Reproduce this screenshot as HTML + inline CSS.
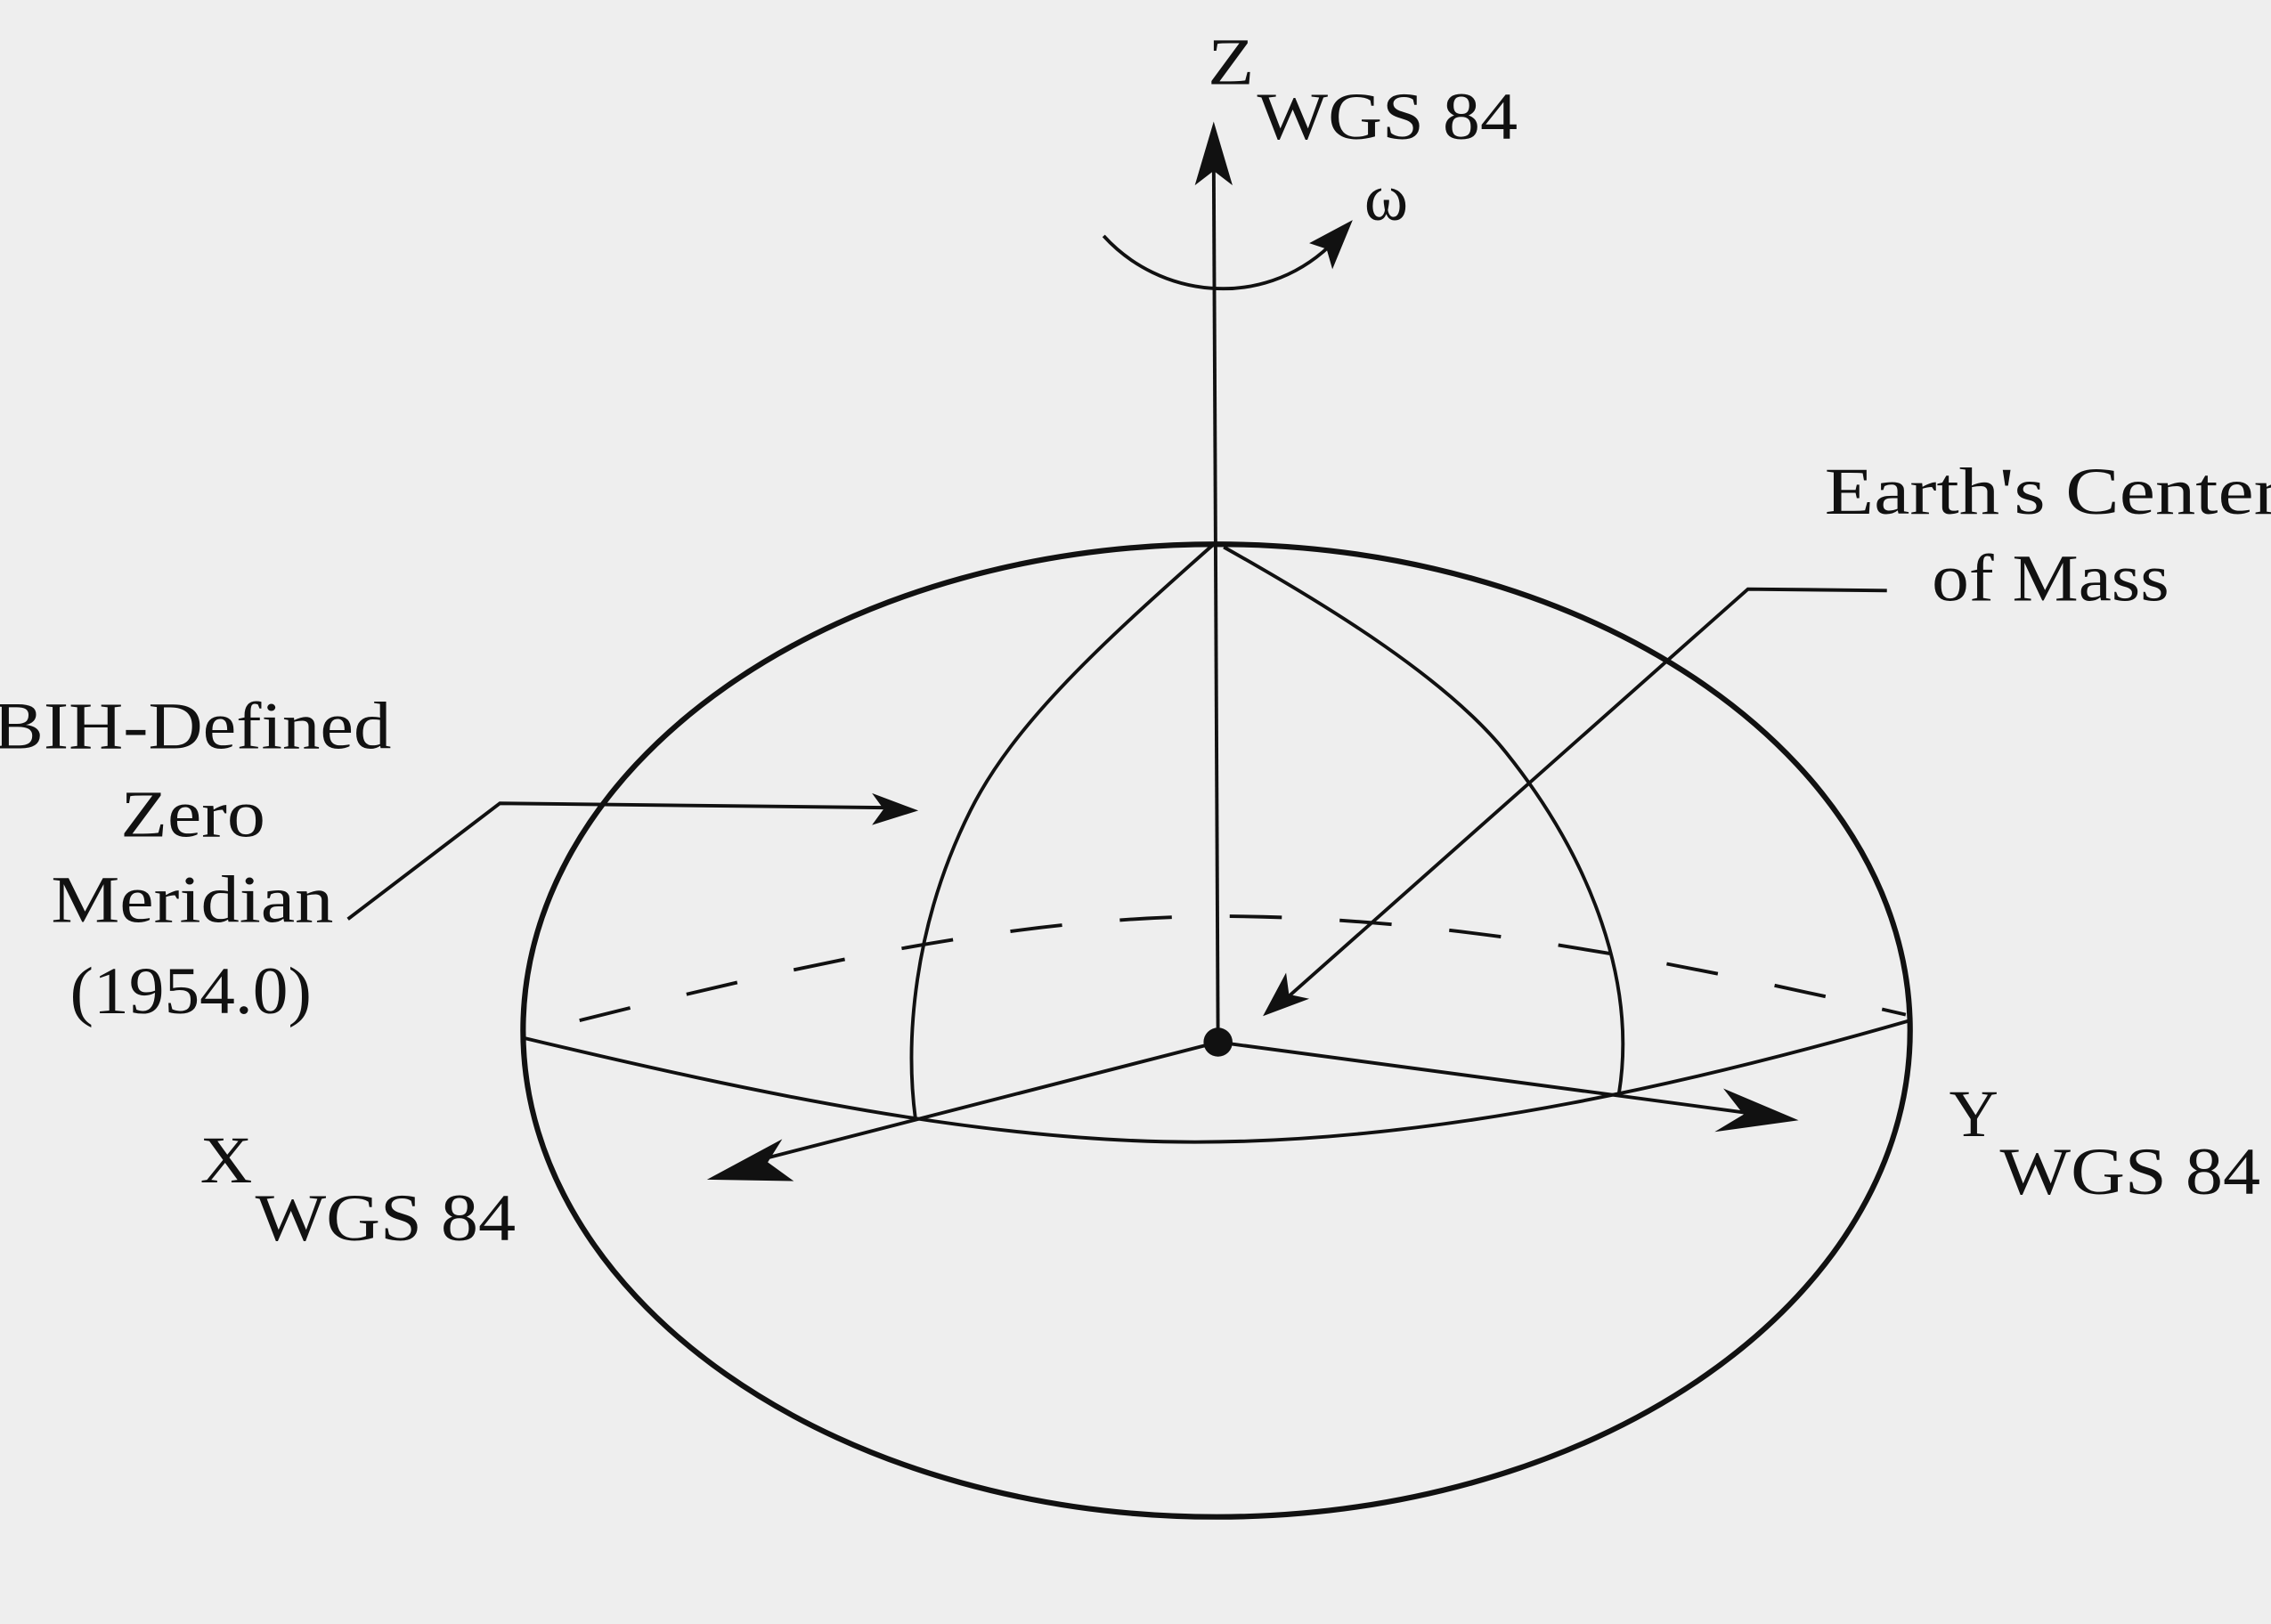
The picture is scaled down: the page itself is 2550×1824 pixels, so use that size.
<!DOCTYPE html>
<html><head><meta charset="utf-8"><style>
html,body{margin:0;padding:0;background:#eeeeee;}
svg{display:block;}
text{font-family:"Liberation Serif",serif;fill:#111;}
</style></head><body>
<svg width="2550" height="1824" viewBox="0 0 1568 1122" xmlns="http://www.w3.org/2000/svg">
<rect width="1568" height="1122" fill="#eeeeee"/>
<g fill="none" stroke="#111" stroke-width="2.4">
<ellipse cx="840" cy="712" rx="479" ry="336" stroke-width="3.8"/>
<path d="M400,705 C560,665 700,634 840,633 C1000,633 1160,665 1316,701" stroke-dasharray="36,40"/>
<path d="M361,717 C520,755 680,789 825,789 C1000,789 1180,745 1319,705"/>
<path d="M838,376 C760,445 700,500 670,560 C630,640 625,720 632,773"/>
<path d="M845,378 C920,420 1000,470 1040,520 C1100,595 1130,680 1118,755"/>
<line x1="838" y1="110" x2="841" y2="720"/>
<line x1="841" y1="720" x2="510" y2="805"/>
<line x1="841" y1="720" x2="1215" y2="770"/>
<path d="M762,163 C800,205 870,215 918,170"/>
<polyline points="240,635 345,555 610,558"/>
<polyline points="1303,408 1207,407 888,690"/>
</g>
<g fill="#111">
<circle cx="841" cy="720" r="10"/>
<polygon points="838,84 825,128 838,118 851,128"/>
<polygon points="488,815 540,787 530,803 548,816"/>
<polygon points="1242,774 1190,752 1204,770 1184,782"/>
<polygon points="934,152 904,168 916,172 920,186"/>
<polygon points="634,560 602,548 610,559 602,570"/>
<polygon points="872,702 888,672 890,687 904,690"/>
</g>
<g font-size="46">
<text x="834" y="58" textLength="32" lengthAdjust="spacingAndGlyphs">Z</text>
<text x="868" y="96" textLength="180" lengthAdjust="spacingAndGlyphs">WGS 84</text>
<text x="942" y="152">ω</text>
<text x="138" y="817" textLength="36" lengthAdjust="spacingAndGlyphs">X</text>
<text x="176" y="857" textLength="180" lengthAdjust="spacingAndGlyphs">WGS 84</text>
<text x="1346" y="785" textLength="34" lengthAdjust="spacingAndGlyphs">Y</text>
<text x="1381" y="825" textLength="180" lengthAdjust="spacingAndGlyphs">WGS 84</text>
<text x="1260" y="355" textLength="315" lengthAdjust="spacingAndGlyphs">Earth's Center</text>
<text x="1334" y="415" textLength="164" lengthAdjust="spacingAndGlyphs">of Mass</text>
<text x="-5" y="517" textLength="275" lengthAdjust="spacingAndGlyphs">BIH-Defined</text>
<text x="83" y="578" textLength="100" lengthAdjust="spacingAndGlyphs">Zero</text>
<text x="35" y="637" textLength="195" lengthAdjust="spacingAndGlyphs">Meridian</text>
<text x="48" y="700" textLength="167" lengthAdjust="spacingAndGlyphs">(1954.0)</text>
</g>
</svg>
</body></html>
